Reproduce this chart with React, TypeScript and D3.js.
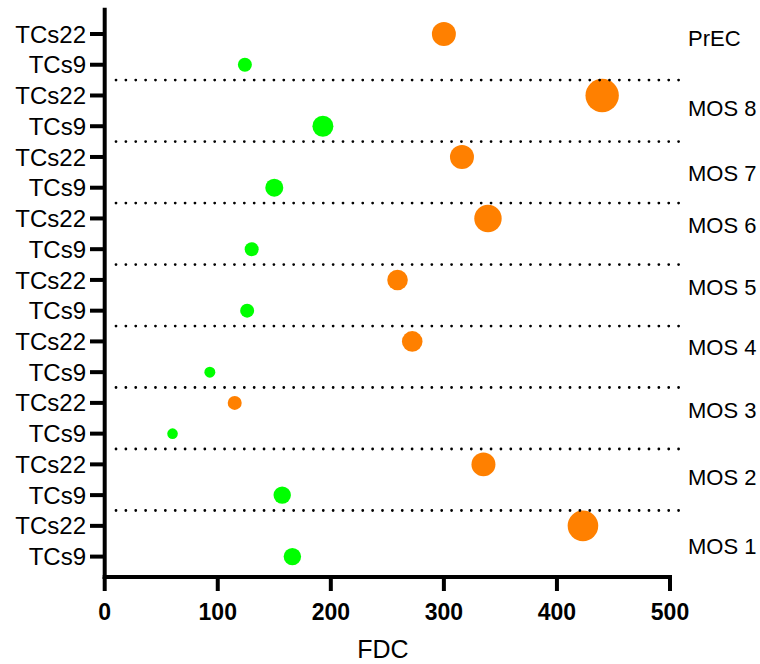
import React from "react";
import * as d3 from "d3";

// ---- data ----
const groups = ["PrEC", "MOS 8", "MOS 7", "MOS 6", "MOS 5", "MOS 4", "MOS 3", "MOS 2", "MOS 1"];
const seriesNames = ["TCs22", "TCs9"];
const tcs22FDC = [300, 440, 316, 339, 259, 272, 115, 335, 423];
const tcs9FDC = [124, 193, 150, 130, 126, 93, 60, 157, 166];
const tcs22Size = [144, 279, 144, 188, 106, 106, 49, 144, 234];
const tcs9Size = [49, 110, 81, 49, 49, 30, 28, 76, 76];
const xTicks = [0, 100, 200, 300, 400, 500];

// ---- layout / style ----
const W = 760;
const H = 664;
const FONT = "'Liberation Sans', Arial, sans-serif";
const colors = ["#FF8000", "#00FF00"];
const labelNudge = [-3, 5, 9, -1, 0, -2, 0, 5, 13];

export default function App() {
  const x = d3.scaleLinear().domain([0, 500]).range([104.7, 670]);
  const nRows = groups.length * 2;
  const y = d3.scaleLinear().domain([0, nRows - 1]).range([34, 556.6]);
  const r = d3.scaleSqrt().domain([0, 279]).range([0, 16.7]);
  const axisY = 577;
  const axisTop = y(-0.85);

  const points: { v: number; s: number; row: number; k: number }[] = [];
  groups.forEach((g, i) => {
    points.push({ v: tcs22FDC[i], s: tcs22Size[i], row: 2 * i, k: 0 });
    points.push({ v: tcs9FDC[i], s: tcs9Size[i], row: 2 * i + 1, k: 1 });
  });

  const rows = d3.range(nRows);
  const sep = d3.range(groups.length - 1).map((i) => (y(2 * i + 1) + y(2 * i + 2)) / 2);

  return (
    <div style={{ position: "absolute", left: 0, top: 0 }}>
      <svg width={W} height={H} style={{ display: "block", background: "#fff" }}>
        {/* bubbles */}
        {points.map((p, i) => (
          <circle key={i} cx={x(p.v)} cy={y(p.row)} r={r(p.s)} fill={colors[p.k]} />
        ))}
        {/* dotted separators */}
        {sep.map((sy, i) => (
          <line
            key={i}
            x1={116}
            x2={679}
            y1={sy}
            y2={sy}
            stroke="#000"
            strokeWidth={2.8}
            strokeLinecap="round"
            strokeDasharray="0 9.87"
          />
        ))}
        {/* y axis */}
        <line x1={104.7} x2={104.7} y1={axisTop} y2={axisY + 2} stroke="#000" strokeWidth={4} />
        {rows.map((ri) => (
          <g key={ri}>
            <line x1={90} x2={104.7} y1={y(ri)} y2={y(ri)} stroke="#000" strokeWidth={4} />
            <text
              x={86}
              y={y(ri) + 8.6}
              textAnchor="end"
              fontFamily={FONT}
              fontSize={24}
              fill="#000"
            >
              {seriesNames[ri % 2]}
            </text>
          </g>
        ))}
        {/* x axis */}
        <line x1={102.7} x2={672} y1={axisY} y2={axisY} stroke="#000" strokeWidth={4} />
        {xTicks.map((t) => (
          <g key={t}>
            <line x1={x(t)} x2={x(t)} y1={axisY} y2={axisY + 14} stroke="#000" strokeWidth={4} />
            <text
              x={x(t)}
              y={620}
              textAnchor="middle"
              fontFamily={FONT}
              fontWeight="bold"
              fontSize={23}
              fill="#000"
            >
              {t}
            </text>
          </g>
        ))}
        <text x={383} y={658} textAnchor="middle" fontFamily={FONT} fontSize={25} fill="#000">
          FDC
        </text>
        {/* group labels */}
        {groups.map((g, i) => (
          <text
            key={g}
            x={688}
            y={(y(2 * i) + y(2 * i + 1)) / 2 + labelNudge[i]}
            fontFamily={FONT}
            fontSize={22}
            fill="#000"
          >
            {g}
          </text>
        ))}
      </svg>
    </div>
  );
}
